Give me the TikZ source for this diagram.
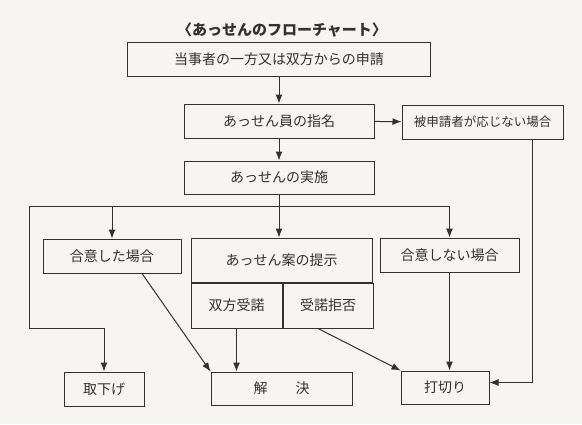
\documentclass[tikz,border=0pt]{standalone}
\usepackage{fontspec}
\setmainfont{Noto Sans CJK JP}
\usetikzlibrary{arrows.meta}
\definecolor{paper}{RGB}{246,245,241}
\definecolor{ink}{RGB}{50,50,50}

\begin{document}
\begin{tikzpicture}[
    x=1pt, y=-1pt,
    >={Latex[length=9pt,width=7pt]},
    flownode/.style={rectangle, draw=ink, line width=1pt, fill=paper, text=ink, inner sep=0pt, minimum height=34pt, font=\fontsize{14}{16}\selectfont},
    flowline/.style={line width=1pt, ink}
]
    \useasboundingbox[fill=paper] (0,0) rectangle (582,424);

    % --- TITLE ---
    \node at (282,30) [text=ink, font=\fontsize{15}{17}\selectfont\bfseries] (title) {〈あっせんのフローチャート〉};

    % --- MAIN COLUMN ---
    \node[flownode, minimum width=303pt] at (279,59) (req) {当事者の一方又は双方からの申請};
    \node[flownode, minimum width=190pt] at (279,121) (appoint) {あっせん員の指名};
    \node[flownode, minimum width=161pt, font=\fontsize{12.5}{15}\selectfont] at (482.5,122) (refuse) {被申請者が応じない場合};
    \node[flownode, minimum width=190pt, minimum height=33pt] at (279,177.5) (conduct) {あっせんの実施};

    \draw[->, flowline] (req) -- (appoint);
    \draw[->, flowline] (appoint) -- (conduct);
    \draw[->, flowline] (appoint) -- (refuse);

    % --- BRANCHES ---
    \node[flownode, minimum width=138pt] at (112,256) (agree) {合意した場合};
    \node[flownode, minimum width=181pt, minimum height=44pt] at (281.5,260) (proposal) {あっせん案の提示};
    \node[flownode, minimum width=91pt, minimum height=45pt, anchor=north west] at (proposal.south west) (accept) {双方受諾};
    \node[flownode, minimum width=90pt, minimum height=45pt, anchor=north west] at (accept.north east) (reject) {受諾拒否};
    \node[flownode, minimum width=139pt] at (449.5,255) (disagree) {合意しない場合};

    \coordinate (split) at (conduct.south |- 0,206);
    \coordinate (leftturn) at (29,328);

    \draw[->, flowline] (conduct.south) -- (conduct.south |- proposal.north);
    \draw[->, flowline] (split) -| (agree.north);
    \draw[->, flowline] (split) -| (disagree.north);

    % --- RESULTS ---
    \node[flownode, minimum width=80pt] at (104,389) (withdraw) {取下げ};
    \node[flownode, minimum width=141pt, minimum height=33pt] at (281.5,388.5) (settle) {解　　決};
    \node[flownode, minimum width=88pt, minimum height=33pt] at (445,387.5) (cutoff) {打切り};

    \draw[->, flowline] (split) -| (leftturn) -| (withdraw.north);
    \draw[->, flowline] ([xshift=30pt]agree.south) -- (settle.north west);
    \draw[->, flowline] (accept.south) -- (accept.south |- settle.north);
    \draw[->, flowline] ([xshift=-10pt]reject.south) -- (cutoff.north west);
    \draw[->, flowline] (disagree.south) -- (disagree.south |- cutoff.north);
    \draw[->, flowline] ([xshift=49.5pt]refuse.south) |- ([yshift=5pt]cutoff.east);
\end{tikzpicture}
\end{document}
